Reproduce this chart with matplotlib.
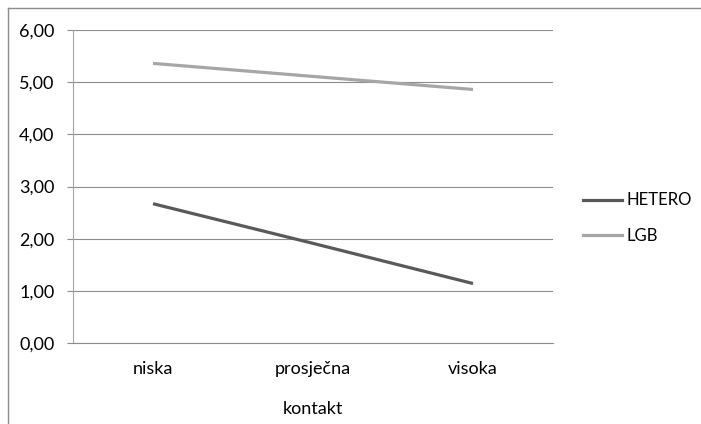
import matplotlib
matplotlib.use("Agg")
import matplotlib.pyplot as plt
from matplotlib.lines import Line2D

categories = ["niska", "prosječna", "visoka"]
hetero = [2.67, 1.91, 1.14]
lgb = [5.36, 5.11, 4.86]
yticks = [0, 1, 2, 3, 4, 5, 6]
ytick_labels = ["0,00", "1,00", "2,00", "3,00", "4,00", "5,00", "6,00"]
xlabel = "kontakt"

plt.rcParams['font.family'] = ['Lato', 'DejaVu Sans']

W, H = 701, 424
fig = plt.figure(figsize=(W/100, H/100), dpi=100)
x0, x1, y0, y1 = 73, 553, 343, 30
ax = fig.add_axes([x0/W, 1 - y0/H, (x1-x0)/W, (y0-y1)/H])

xs = range(len(categories))
ax.plot(xs, hetero, color="#595959", lw=2.3, label="HETERO", solid_capstyle="butt")
ax.plot(xs, lgb, color="#a6a6a6", lw=2.3, label="LGB", solid_capstyle="butt")

fs = 13
ax.set_xlim(-0.5, 2.5)
ax.set_ylim(0, 6)
ax.set_yticks(yticks)
ax.set_yticklabels(ytick_labels, fontsize=fs)
ax.set_xticks(list(xs))
ax.set_xticklabels(categories, fontsize=fs)
ax.tick_params(axis='y', length=4.3, width=0.8, color="#8c8c8c", pad=9)
ax.tick_params(axis='x', length=0, pad=13)
ax.yaxis.grid(True, color="#8c8c8c", lw=0.8)
ax.set_axisbelow(True)
for s in ["top", "right"]:
    ax.spines[s].set_visible(False)
ax.spines["left"].set_color("#a6a6a6")
ax.spines["bottom"].set_color("#8c8c8c")
ax.set_xlabel(xlabel, fontsize=fs, labelpad=17)

lfs = 12
handles = [Line2D([], [], color="#595959", lw=2.3), Line2D([], [], color="#a6a6a6", lw=2.3)]
fig.legend(handles, ["HETERO", "LGB"], loc="center left",
           bbox_to_anchor=(568/W, 1 - 218/H), frameon=False, fontsize=lfs,
           handlelength=2.35, handletextpad=0.24, labelspacing=1.15)

# outer frame
fig.add_artist(Line2D([8/W, 8/W], [0, 1 - 8/H], transform=fig.transFigure, color="#8c8c8c", lw=1))
fig.add_artist(Line2D([8/W, 1], [1 - 8/H, 1 - 8/H], transform=fig.transFigure, color="#8c8c8c", lw=1))

fig.savefig("out.png", dpi=100)
